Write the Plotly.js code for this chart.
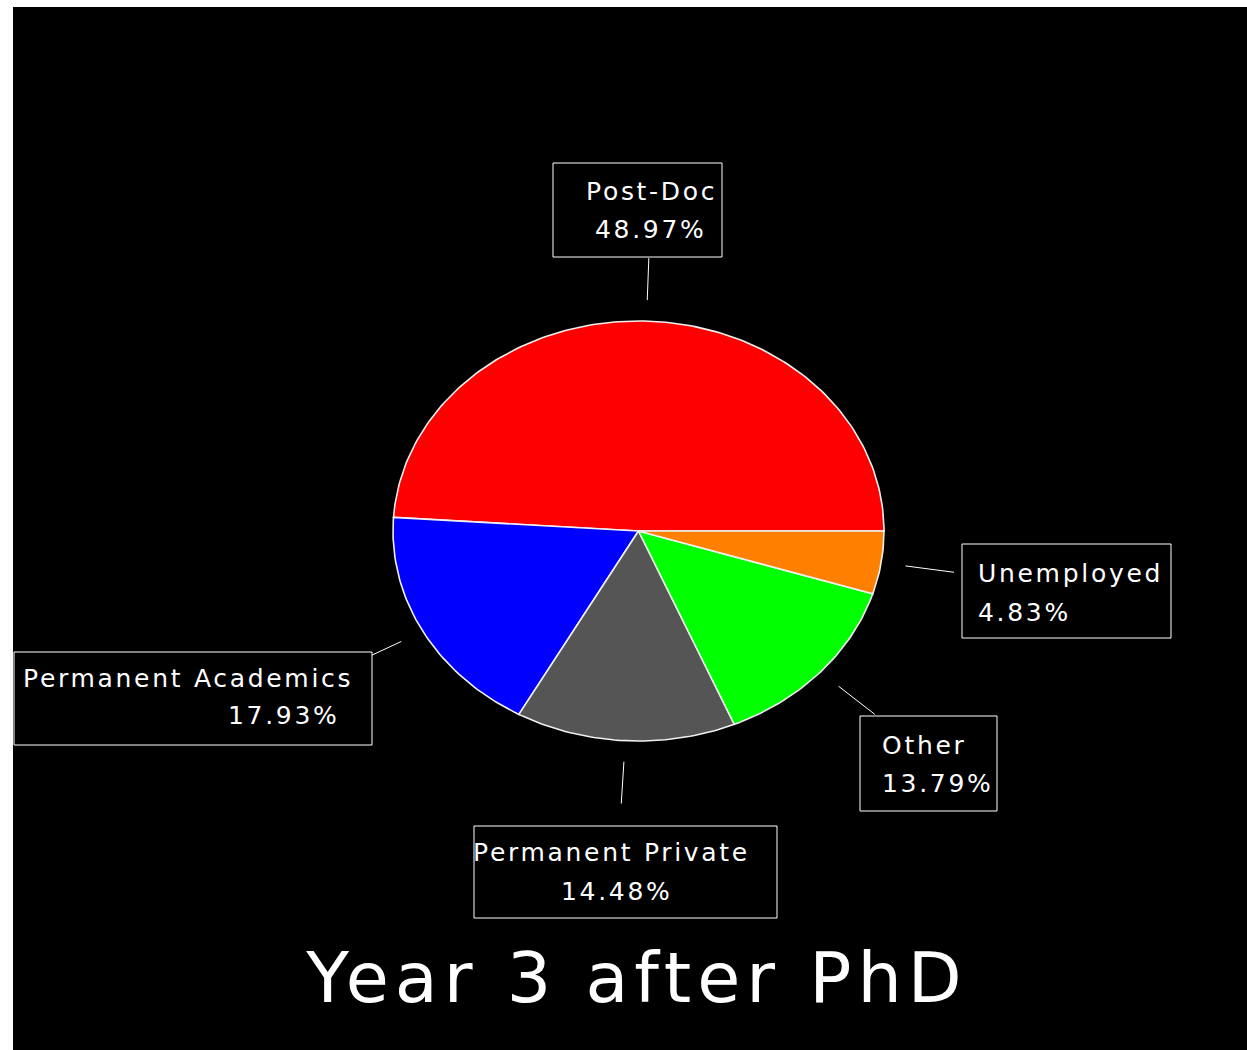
<!DOCTYPE html>
<html>
<head>
<meta charset="utf-8">
<script src="https://cdn.plot.ly/plotly-3.0.1.min.js"></script>
<style>
  html, body { margin: 0; padding: 0; background: #ffffff; }
  #chart { width: 1247px; height: 1050px; }
  .annotation-text { letter-spacing: 2.7px; }
  .gtitle { letter-spacing: 6px; }
</style>
</head>
<body>
<div id="chart"></div>
<script>
// ---- data ----
const categories = ['Post-Doc', 'Permanent Academics', 'Permanent Private', 'Other', 'Unemployed'];
const percentages = [48.97, 17.93, 14.48, 13.79, 4.83];
const chartTitle = 'Year 3 after PhD';

// ---- styles ----
const sliceColors = ['#ff0000', '#0000ff', '#555555', '#00ff00', '#ff8000'];

// ---- layout geometry (pixels) ----
const W = 1247, H = 1050;
const L = 13, T = 7;                 // black frame top-left
const CX = 638.5, CY = 531;          // pie centre
const RX = 245.5, RY = 210;          // pie radii (elliptical view)
const px2x = px => (px - CX) / RX;
const py2y = py => (CY - py) / RY;

// label boxes [x0, x1, y0, y1] in px, same order as categories
const labelBoxes = [
  [553, 722, 163, 257],
  [14, 372, 652, 745],
  [474, 777, 826, 918],
  [860, 997, 716, 811],
  [962, 1171, 544, 638]
];
// text placement per label: [x, baseline, anchor] for name line and value line
const labelText = [
  [[651, 200.5, 'center'], [650.5, 238.5, 'center']],
  [[21, 687.5, 'left'], [342, 724.5, 'right']],
  [[611.5, 861.5, 'center'], [617, 900, 'center']],
  [[880, 754, 'left'], [880, 792.5, 'left']],
  [[976, 582.5, 'left'], [976, 621.5, 'left']]
];

const total = percentages.reduce((a, b) => a + b, 0);
const traces = [];
let cum = 0;
const midAngles = [];
percentages.forEach((v, i) => {
  const a0 = cum / total * 360;
  cum += v;
  const a1 = cum / total * 360;
  midAngles.push((a0 + a1) / 2);
  const n = Math.max(2, Math.ceil((a1 - a0) / 1));
  const xs = [0], ys = [0];
  for (let k = 0; k <= n; k++) {
    const a = (a0 + (a1 - a0) * k / n) * Math.PI / 180;
    xs.push(Math.cos(a));
    ys.push(Math.sin(a));
  }
  xs.push(0); ys.push(0);
  traces.push({
    type: 'scatter', mode: 'lines', x: xs, y: ys,
    fill: 'toself', fillcolor: sliceColors[i],
    line: { color: '#f0f0f0', width: 1.6 },
    name: categories[i], hoverinfo: 'name', showlegend: false
  });
});

// connector lines
const lx = [], ly = [];
midAngles.forEach(m => {
  const a = m * Math.PI / 180;
  lx.push(1.1 * Math.cos(a), 1.3 * Math.cos(a), null);
  ly.push(1.1 * Math.sin(a), 1.3 * Math.sin(a), null);
});
traces.push({
  type: 'scatter', mode: 'lines', x: lx, y: ly,
  line: { color: '#ffffff', width: 1 }, hoverinfo: 'skip', showlegend: false
});

const shapes = labelBoxes.map(b => ({
  type: 'rect', xref: 'x', yref: 'y', layer: 'above',
  x0: px2x(b[0]), x1: px2x(b[1]), y0: py2y(b[3]), y1: py2y(b[2]),
  line: { color: '#ffffff', width: 1 }, fillcolor: '#000000'
}));

const font = { family: 'DejaVu Sans', size: 25, color: '#ffffff' };
const annotations = [];
categories.forEach((c, i) => {
  const texts = [c, percentages[i].toFixed(2) + '%'];
  texts.forEach((t, j) => {
    const p = labelText[i][j];
    annotations.push({
      text: t, xref: 'x', yref: 'y', x: px2x(p[0]), y: py2y(p[1] - 9),
      xanchor: p[2], yanchor: 'middle', showarrow: false, font: font
    });
  });
});

const layout = {
  width: W, height: H,
  margin: { l: L, r: 0, t: T, b: 0, pad: 0 },
  paper_bgcolor: '#ffffff', plot_bgcolor: '#000000',
  showlegend: false,
  xaxis: { range: [px2x(L), px2x(W)], visible: false, fixedrange: true },
  yaxis: { range: [py2y(H), py2y(T)], visible: false, fixedrange: true },
  title: {
    text: chartTitle, xref: 'paper', yref: 'paper',
    x: (637 - L) / (W - L), y: (H - 977) / (H - T),
    xanchor: 'center', yanchor: 'middle',
    font: { family: 'DejaVu Sans', size: 70, color: '#ffffff' }
  },
  shapes: shapes, annotations: annotations
};

Plotly.newPlot('chart', traces, layout, { displayModeBar: false, staticPlot: true });
</script>
</body>
</html>
